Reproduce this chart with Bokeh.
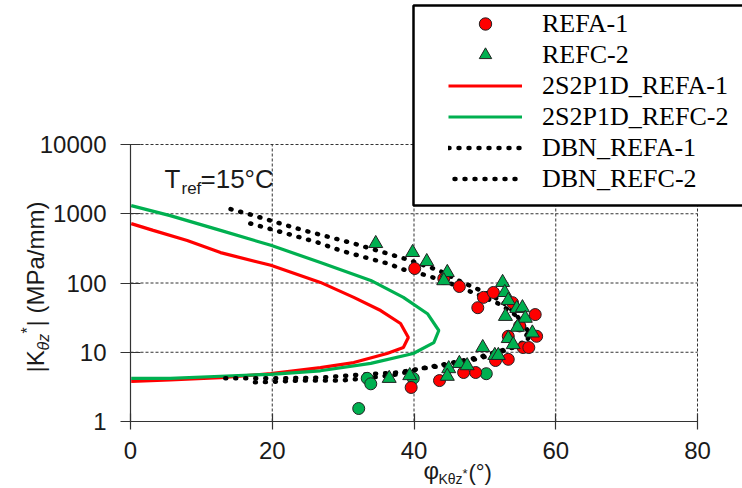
import numpy as np
from bokeh.plotting import figure
from bokeh.models import (Legend, LegendItem, Label, FixedTicker, PrintfTickFormatter, Range1d,
                          LinearAxis, LogAxis, BoxAnnotation)
from bokeh.embed import file_html
from bokeh.resources import INLINE

# ---------------- data ----------------
# REFA-1 measured points (red circles)
refa1_phi = [40.1, 44.2, 46.4, 49.8, 49.0, 51.2, 53.9, 57.1, 54.9, 53.3, 57.3, 55.4, 56.2,
             53.3, 51.5, 48.7, 47.0, 43.6, 39.6]
refa1_k = [162, 116, 89, 62, 44, 73, 52, 35, 24, 17, 17, 11.7, 11.7,
           7.9, 7.6, 5.1, 5.1, 3.9, 3.1]

# REFC-2 measured points (green triangles)
refc2_phi = [34.6, 39.8, 41.8, 44.7, 44.2, 52.5, 52.8, 53.3, 54.5, 55.3, 52.9, 55.7, 54.6,
             56.7, 53.3, 54.0, 49.7, 51.4, 51.9, 46.4, 47.5, 44.9, 44.7, 39.4, 36.5]
refc2_k = [372, 276, 204, 142, 108, 102, 73, 56, 43, 44, 33, 31, 23,
           19, 15.8, 12.9, 11.7, 9.0, 9.0, 6.9, 6.4, 5.8, 4.5, 4.6, 4.2]

# additional green circles (not in legend)
extra_phi = [33.4, 33.9, 32.2, 39.9, 50.2]
extra_k = [4.2, 3.5, 1.54, 4.2, 4.9]

# 2S2P1D model REFA-1
s2p_a_phi = [0.1, 3.2, 8.0, 12.7, 19.8, 26.8, 31.5, 35.3, 38.1, 39.2, 38.5, 36.2, 31.5,
             26.8, 19.8, 12.7, 5.6, 0.1]
s2p_a_k = [720, 575, 410, 275, 180, 102, 62, 40, 26, 16.3, 11.7, 9.6, 7.1,
           6.0, 4.9, 4.3, 4.0, 3.8]

# 2S2P1D model REFC-2
s2p_c_phi = [0.1, 5.6, 12.7, 19.8, 26.8, 33.9, 38.5, 41.9, 43.5, 42.8, 39.9, 33.9, 26.8,
             19.8, 12.7, 5.6, 0.1]
s2p_c_k = [1310, 940, 575, 350, 198, 109, 62, 36, 20.6, 13.8, 9.6, 6.9, 5.4,
           4.8, 4.5, 4.2, 4.2]

# DBN model REFA-1
dbn_a_phi = [16.9, 20.0, 23.0, 26.4, 29.6, 33.2, 36.3, 38.5, 41.9, 45.2, 48.7, 51.8, 53.9,
             55.3, 56.4, 55.7, 54.0, 51.8, 49.0, 44.2, 40.9, 37.7, 33.2, 29.6, 24.0, 18.8, 16.7]
dbn_a_k = [723, 592, 485, 385, 295, 233, 191, 157, 128, 98, 70, 51, 37.5,
           26.9, 18.0, 13.4, 11.7, 10.3, 8.4, 6.7, 5.8, 4.8, 4.2, 3.9, 3.9, 3.7, 3.7]

# DBN model REFC-2
dbn_c_phi = [13.3, 16.9, 24.0, 31.5, 39.1, 43.5, 46.6, 49.4, 52.2, 53.9, 55.3, 56.0, 55.3,
             53.6, 50.8, 48.0, 44.2, 40.9, 37.7, 33.2, 26.8, 21.2, 13.0]
dbn_c_k = [1231, 975, 592, 372, 218, 152, 105, 78, 56, 40, 26.9, 18.7, 13.8,
           11.3, 9.0, 7.6, 6.4, 5.8, 5.1, 4.8, 4.3, 4.2, 4.2]

x_ticks = [0, 20, 40, 60, 80]
y_ticks = [1, 10, 100, 1000, 10000]

# ---------------- layout ----------------
W, H = 742, 488
FL, FT, FW, FH = 130, 144, 567, 277      # data area in picture pixels
X0, X1 = 0, 80
Y0, Y1 = 1, 10000
LX0, LX1 = np.log10(Y0), np.log10(Y1)


def px2x(px):
    return X0 + (px - FL) * (X1 - X0) / FW


def px2y(py):
    return 10 ** (LX0 + (FT + FH - py) * (LX1 - LX0) / FH)


p = figure(width=W, height=H, min_border=0, min_border_left=0, min_border_right=0,
           min_border_top=0, min_border_bottom=0,
           x_range=Range1d(px2x(0), px2x(W)), y_range=Range1d(px2y(H), px2y(0)),
           y_axis_type="log", x_axis_location=None, y_axis_location=None,
           output_backend="svg", toolbar_location=None)
p.outline_line_color = None
p.background_fill_color = "white"
p.border_fill_color = "white"
p.grid.visible = False

RED = "#FF0000"
GREEN = "#00B050"
AX = "#333333"
TICK_FONT = "Liberation Sans"

# grid (dashed), drawn from the tick lists
gx = [t for t in x_ticks if t != X0]
gy = [t for t in y_ticks if t != Y0]
p.segment(x0=gx, y0=[Y0] * len(gx), x1=gx, y1=[Y1] * len(gx),
          line_color=AX, line_width=1, line_dash="3 2")
p.segment(x0=[X0] * len(gy), y0=gy, x1=[X1] * len(gy), y1=gy,
          line_color=AX, line_width=1, line_dash="3 2")

# axes, fixed at the data origin
xaxis = LinearAxis(fixed_location=Y0, bounds=(X0, X1), ticker=FixedTicker(ticks=x_ticks))
yaxis = LogAxis(fixed_location=X0, bounds=(Y0, Y1), ticker=FixedTicker(ticks=y_ticks),
                formatter=PrintfTickFormatter(format="%d"))
for ax in (xaxis, yaxis):
    ax.axis_line_color = AX
    ax.axis_line_width = 1.2
    ax.major_tick_line_color = AX
    ax.major_tick_line_width = 1.2
    ax.minor_tick_line_color = None
    ax.major_label_text_font = TICK_FONT
    ax.major_label_text_font_size = "24px"
    ax.major_label_text_color = "#1a1a1a"
xaxis.major_tick_in = 8
xaxis.major_tick_out = 8
xaxis.major_label_standoff = 12
yaxis.major_tick_in = 10
yaxis.major_tick_out = 10
yaxis.major_label_standoff = 14
p.add_layout(xaxis, "below")
p.add_layout(yaxis, "left")

# model curves
r_sa = p.line(s2p_a_phi, s2p_a_k, line_color=RED, line_width=3.2)
r_sc = p.line(s2p_c_phi, s2p_c_k, line_color=GREEN, line_width=3.2)
r_da = p.line(dbn_a_phi, dbn_a_k, line_color="black", line_width=4.5,
              line_dash="1 9", line_cap="round")
r_dc = p.line(dbn_c_phi, dbn_c_k, line_color="black", line_width=4.5,
              line_dash="1 9", line_cap="round", line_dash_offset=4)

# points
p.scatter(extra_phi, extra_k, marker="circle", size=12, fill_color=GREEN,
          line_color="#222222", line_width=1)
r_a = p.scatter(refa1_phi, refa1_k, marker="circle", size=12, fill_color=RED,
                line_color="#222222", line_width=1)
r_c = p.scatter(refc2_phi, refc2_k, marker="triangle", size=14, fill_color=GREEN,
                line_color="#222222", line_width=1)

# legend frame (white box with a heavy black border, running off the right edge)
BOX_L, BOX_T, BOX_B, BOX_R = 413, 5, 205, 760
p.add_layout(BoxAnnotation(left=px2x(BOX_L), right=px2x(BOX_R),
                           top=px2y(BOX_T), bottom=px2y(BOX_B),
                           fill_color="white", fill_alpha=1,
                           line_color="black", line_width=2.5, line_alpha=1))

# legend entries (transparent legend placed inside the box)
ROW, PAD = 31, 2
LEG_H = 6 * ROW + 2 * PAD
legend = Legend(items=[
    LegendItem(label="REFA-1", renderers=[r_a]),
    LegendItem(label="REFC-2", renderers=[r_c]),
    LegendItem(label="2S2P1D_REFA-1", renderers=[r_sa]),
    LegendItem(label="2S2P1D_REFC-2", renderers=[r_sc]),
    LegendItem(label="DBN_REFA-1", renderers=[r_da]),
    LegendItem(label="DBN_REFC-2", renderers=[r_dc]),
], location=(446, H - 6 - LEG_H))
legend.label_text_font = "Liberation Serif"
legend.label_text_font_size = "26px"
legend.label_text_color = "black"
legend.label_height = ROW
legend.glyph_height = ROW
legend.glyph_width = 74
legend.label_standoff = 20
legend.spacing = 0
legend.padding = PAD
legend.margin = 0
legend.border_line_alpha = 0
legend.background_fill_alpha = 0
p.add_layout(legend)

# text helper (positions given in picture pixels; small correction for the text anchor)


def add_text(text, px, py, size, angle=0.0, style="normal"):
    shift = 0.32 * size
    if angle:
        px -= shift
    else:
        py -= shift
    p.add_layout(Label(x=px2x(px), y=px2y(py), text=text, angle=angle,
                       text_font=TICK_FONT, text_font_size=f"{size}px",
                       text_font_style=style, text_color="#1a1a1a",
                       text_align="left", text_baseline="alphabetic"))


# T_ref = 15 °C annotation
add_text("T", 164, 187, 26)
add_text("ref", 181, 193, 17)
add_text("=15°C", 200, 187, 26)

# y-axis label: |Kθz*| (MPa/mm), rotated
ang = np.pi / 2
add_text("|K", 43, 372, 24, ang)
add_text("θz", 48, 350, 16, ang, "italic")
add_text("*", 32, 333, 16, ang)
add_text("| (MPa/mm)", 43, 326, 24, ang)

# x-axis label: φKθz*(°)
add_text("φ", 423, 478, 24)
add_text("Kθz", 438, 483, 14)
add_text("*", 462, 477, 13)
add_text("(°)", 468, 479, 22)

open("out.html", "w").write(file_html(p, INLINE))
